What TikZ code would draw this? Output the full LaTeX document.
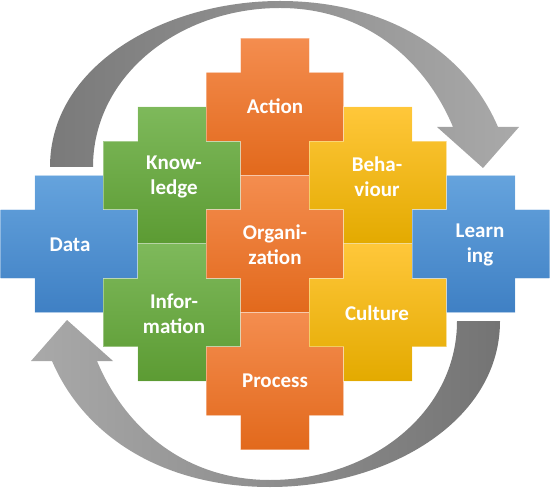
\documentclass[tikz,border=0pt]{standalone}
\usepackage{fontspec}
\setmainfont{Carlito}
\usepackage{tikz}

\begin{document}
\begin{tikzpicture}[x=0.5pt,y=-0.5pt,
  tile/.style={draw=white,draw opacity=0.35,line width=0.5pt},
  tag/.style={text=white,font=\bfseries\fontsize{10.5}{12.5}\selectfont,align=center,inner sep=0pt},
  piece/.pic={\path[pic actions,x=17.15pt,y=17.15pt]
    (-1,-2) -- (1,-2) -- (1,-1) -- (2,-1) -- (2,1) -- (1,1) -- (1,2)
    -- (-1,2) -- (-1,1) -- (-2,1) -- (-2,-1) -- (-1,-1) -- cycle;}]
\definecolor{blueT}{HTML}{65A3DD}
\definecolor{blueB}{HTML}{3F80C4}
\definecolor{greenT}{HTML}{7EB95B}
\definecolor{greenB}{HTML}{5C9B33}
\definecolor{orangeT}{HTML}{F48D4F}
\definecolor{orangeB}{HTML}{E2691C}
\definecolor{yellowT}{HTML}{FFC73A}
\definecolor{yellowB}{HTML}{E3AA00}
\definecolor{grayD}{HTML}{7A7A7A}
\definecolor{grayL}{HTML}{A9A9A9}
\useasboundingbox (0,0) rectangle (550,491);
% upper arrow, tail on the left
\shade[left color=grayD,right color=grayL]
  (50,167) -- (93,167)
  .. controls (93,75) and (180,8) .. (280,8)
  .. controls (365,8) and (425,60) .. (453,127)
  -- (437,127) -- (483,168) -- (519,127) -- (498,127)
  .. controls (465,50) and (385,1) .. (280,1)
  .. controls (165,1) and (50,65) .. (50,167) -- cycle;
% lower arrow, tail on the right
\shade[left color=grayL,right color=grayD!95!black]
  (500,321) -- (457,321)
  .. controls (457,413) and (370,480) .. (270,480)
  .. controls (185,480) and (125,428) .. (97,361)
  -- (113,361) -- (67,320) -- (31,361) -- (52,361)
  .. controls (85,438) and (165,487) .. (270,487)
  .. controls (385,487) and (500,423) .. (500,321) -- cycle;
% pieces
\pic[tile,top color=blueT,bottom color=blueB] at (69.2,244) {piece};
\pic[tile,top color=greenT,bottom color=greenB] at (172.1,175.4) {piece};
\pic[tile,top color=greenT,bottom color=greenB] at (172.1,312.6) {piece};
\pic[tile,top color=orangeT,bottom color=orangeB] at (275,106.8) {piece};
\pic[tile,top color=orangeT,bottom color=orangeB] at (275,244) {piece};
\pic[tile,top color=orangeT,bottom color=orangeB] at (275,381.2) {piece};
\pic[tile,top color=yellowT,bottom color=yellowB] at (377.9,175.4) {piece};
\pic[tile,top color=yellowT,bottom color=yellowB] at (377.9,312.6) {piece};
\pic[tile,top color=blueT,bottom color=blueB] at (480.8,244) {piece};
% labels
\node[tag] (data) at (70,245) {Data};
\node[tag] (knowledge) at (174,177) {Know-\\ledge};
\node[tag] (information) at (174,314) {Infor-\\mation};
\node[tag] (action) at (275,106) {Action};
\node[tag] (organization) at (275,245) {Organi-\\zation};
\node[tag] (process) at (275,381) {Process};
\node[tag] (behaviour) at (377,177) {Beha-\\viour};
\node[tag] (culture) at (377,313) {Culture};
\node[tag] (learning) at (480,245) {Learn\\ing};
\end{tikzpicture}
\end{document}
